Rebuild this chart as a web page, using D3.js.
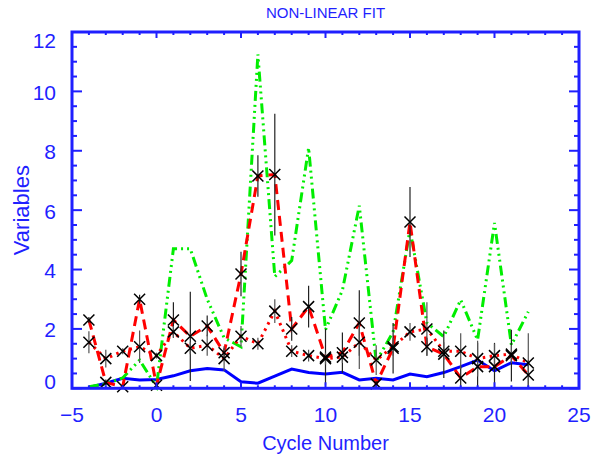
<!DOCTYPE html>
<html><head><meta charset="utf-8">
<script src="https://cdn.jsdelivr.net/npm/d3@7/dist/d3.min.js"></script>
<style>body{margin:0;background:#fff}svg{display:block}</style>
</head><body>
<script>
const cycles = [-4,-3,-2,-1,0,1,2,3,4,5,6,7,8,9,10,11,12,13,14,15,16,17,18,19,20,21,22];
const obs1 = [2.3,0.2,0.05,3.0,0.1,2.3,1.75,2.1,1.2,3.85,7.15,7.2,2.0,2.75,1.05,1.2,2.2,0.15,1.35,5.6,1.4,1.15,0.35,0.73,0.73,1.1,0.45];
const err1 = [0.1,0.1,0.05,0.15,0.05,0.6,1.5,0.35,0.15,0.75,0.7,2.05,0.4,0.7,0.95,0.68,1.1,0.1,0.85,1.18,0.3,0.8,0.4,0.8,0.8,0.87,0.5];
const obs2 = [1.55,1.0,1.25,1.4,1.1,1.9,1.35,1.45,1.0,1.75,1.5,2.6,1.25,1.1,1.0,1.05,1.55,0.95,1.4,1.9,2.0,1.25,1.25,1.0,1.1,1.15,0.85];
const err2 = [0.37,0.3,0.1,0.55,0.1,0.2,0.2,0.35,0.42,0.35,0.2,0.4,0.2,0.2,0.2,0.2,0.9,0.5,0.3,0.3,0.9,0.3,0.6,0.6,0.4,0.3,1.0];
const fit1 = [2.3,0.2,0.05,3.0,0.1,2.3,1.75,2.1,1.2,3.85,7.15,7.2,2.0,2.75,1.05,1.2,2.2,0.15,1.35,5.6,1.4,1.15,0.35,0.73,0.73,1.1,0.45];
const fit2 = [1.55,1.0,1.25,1.4,1.1,1.9,1.35,1.45,1.0,1.75,1.5,2.6,1.25,1.1,1.0,1.05,1.55,0.95,1.4,1.9,2.0,1.25,1.25,1.0,1.1,1.15,0.85];
const green = [0.05,0.15,0.35,0.95,0.05,4.7,4.7,3.0,1.7,1.4,11.25,3.76,4.3,8.1,1.97,3.3,6.15,0.9,1.9,5.35,2.2,1.74,2.98,1.63,5.57,1.46,2.58];
const blue = [0.03,0.17,0.34,0.28,0.3,0.42,0.59,0.67,0.62,0.22,0.17,0.41,0.65,0.53,0.48,0.54,0.28,0.34,0.28,0.48,0.39,0.53,0.73,0.95,0.59,0.86,0.79];
const xTicks = [-5,0,5,10,15,20,25];
const yTicks = [0,2,4,6,8,10,12];
const title = "NON-LINEAR FIT", xTitle = "Cycle Number", yTitle = "Variables";

const W=597,H=466, L=72, R=579, T=32, B=388.3;
const AX="#1f1fff";
const svg=d3.select("body").append("svg").attr("width",W).attr("height",H);
const x=d3.scaleLinear().domain([-5,25]).range([L,R]);
const y=d3.scaleLinear().domain([0,12]).range([B,T]);
const font="'Liberation Sans', Arial, sans-serif";

const line=(arr)=>d3.line().x((d,i)=>x(cycles[i])).y(d=>y(d))(arr);
const g=svg.append("g");
g.append("path").attr("d",line(blue)).attr("fill","none").attr("stroke","#0000ff").attr("stroke-width",3);
g.append("path").attr("d",line(green)).attr("fill","none").attr("stroke","#00ee00").attr("stroke-width",3)
 .attr("stroke-dasharray","10 4 2 4 2 4 2 4");
g.append("path").attr("d",line(fit2)).attr("fill","none").attr("stroke","#ff0000").attr("stroke-width",3)
 .attr("stroke-dasharray","2.5 4.5");
g.append("path").attr("d",line(fit1)).attr("fill","none").attr("stroke","#ff0000").attr("stroke-width",3)
 .attr("stroke-dasharray","10 6");

// error bars
function errs(vals,errs,col){
  g.selectAll(null).data(vals).enter().append("line")
   .attr("x1",(d,i)=>x(cycles[i])).attr("x2",(d,i)=>x(cycles[i]))
   .attr("y1",(d,i)=>y(Math.max(0,d-errs[i]))).attr("y2",(d,i)=>y(d+errs[i]))
   .attr("stroke",col).attr("stroke-width",1.2);
}
errs(obs1,err1,"#222");
errs(obs2,err2,"#555");
function marks(vals){
  const s=5.5;
  g.selectAll(null).data(vals).enter().append("path")
   .attr("d",(d,i)=>{const cx=x(cycles[i]),cy=y(d);return `M${cx-s},${cy-s}L${cx+s},${cy+s}M${cx-s},${cy+s}L${cx+s},${cy-s}`;})
   .attr("stroke","#000").attr("stroke-width",1.5).attr("fill","none");
}
marks(obs1); marks(obs2);

// axes box with ticks on all sides
const ax=svg.append("g").attr("stroke",AX);
const xMinor=d3.range(-5,26,1), yMinor=d3.range(0,12.01,0.5);
xMinor.forEach(v=>{
  const major=v%5===0, len=major?6:3;
  ax.append("line").attr("x1",x(v)).attr("x2",x(v)).attr("y1",B).attr("y2",B-len).attr("stroke-width",2);
  ax.append("line").attr("x1",x(v)).attr("x2",x(v)).attr("y1",T).attr("y2",T+len).attr("stroke-width",2);
});
yMinor.forEach(v=>{
  const major=Math.abs(v%2)<1e-6, len=major?10:5;
  ax.append("line").attr("x1",L).attr("x2",L+len).attr("y1",y(v)).attr("y2",y(v)).attr("stroke-width",2);
  ax.append("line").attr("x1",R).attr("x2",R-len).attr("y1",y(v)).attr("y2",y(v)).attr("stroke-width",2);
});
ax.append("rect").attr("x",L).attr("y",T).attr("width",R-L).attr("height",B-T).attr("fill","none").attr("stroke-width",3);

const tx=svg.append("g").attr("fill",AX).attr("font-family",font);
xTicks.forEach(v=>{
  tx.append("text").attr("x",x(v)).attr("y",422).attr("text-anchor","middle").attr("font-size",21).text(v<0?"\u2212"+Math.abs(v):v);
});
yTicks.forEach(v=>{
  let cy=y(v)+1;
  if(v===12) cy=T+9; if(v===0) cy=B-7;
  tx.append("text").attr("x",56).attr("y",cy).attr("dy","0.35em").attr("text-anchor","end").attr("font-size",21).text(v);
});
tx.append("text").attr("x",(L+R)/2).attr("y",450).attr("text-anchor","middle").attr("font-size",20).text(xTitle);
tx.append("text").attr("transform",`translate(29,${(T+B)/2}) rotate(-90)`).attr("text-anchor","middle").attr("font-size",22).text(yTitle);
tx.append("text").attr("x",(L+R)/2).attr("y",18).attr("text-anchor","middle").attr("font-size",15).text(title);
</script>
</body></html>
